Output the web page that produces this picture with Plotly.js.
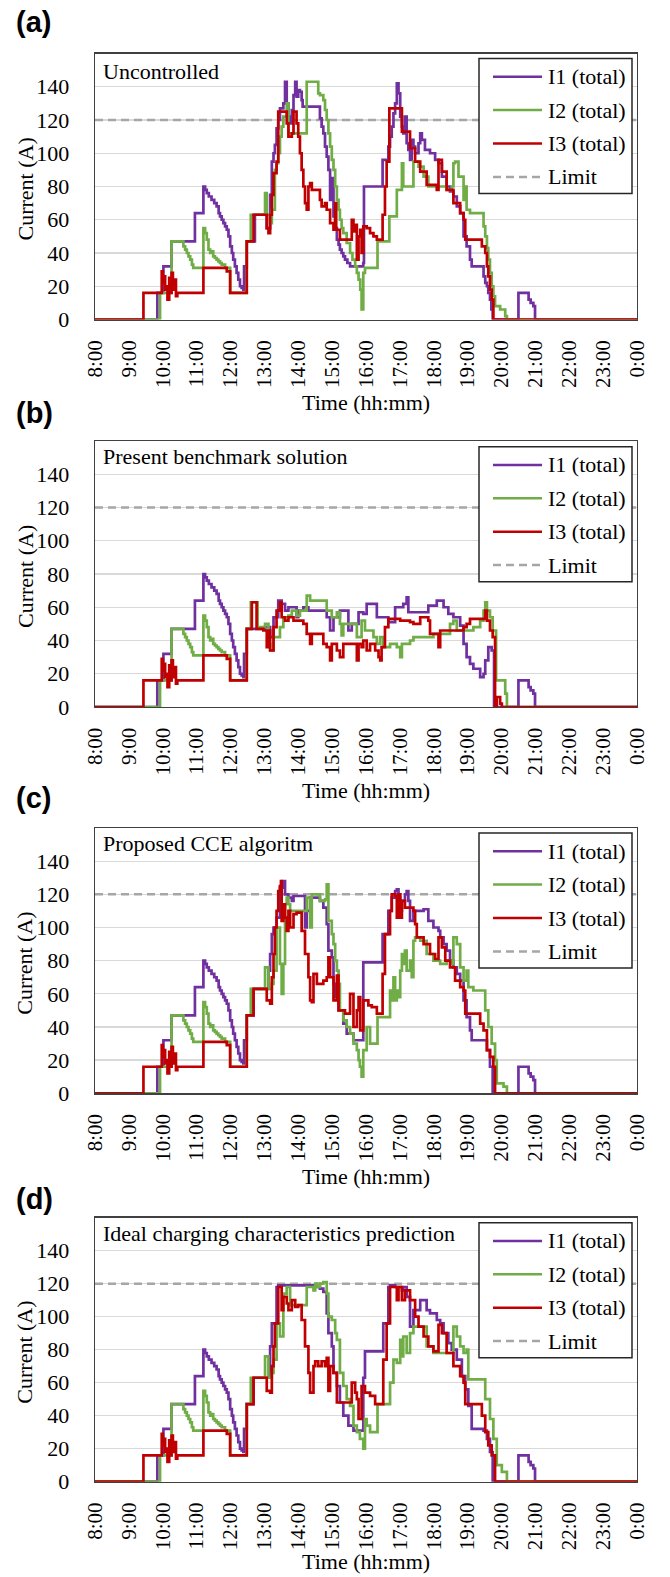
<!DOCTYPE html>
<html>
<head>
<meta charset="utf-8">
<script src="https://cdn.plot.ly/plotly-3.0.1.min.js"></script>
<style>html,body{margin:0;padding:0;background:#fff;}#chart{width:670px;height:1577px;}</style>
</head>
<body>
<div id="chart"></div>
<script>
// ---------- tick labels / categories ----------
const hours = [8,9,10,11,12,13,14,15,16,17,18,19,20,21,22,23,24];
const hourLabels = ['8:00','9:00','10:00','11:00','12:00','13:00','14:00','15:00','16:00','17:00','18:00','19:00','20:00','21:00','22:00','23:00','0:00'];
const yTicks = [0,20,40,60,80,100,120,140];
const seriesNames = ['I1 (total)','I2 (total)','I3 (total)','Limit'];
const panelLetters = ['(a)','(b)','(c)','(d)'];
const panelTitles = ['Uncontrolled','Present benchmark solution','Proposed CCE algoritm','Ideal charging characteristics prediction'];
const limitValue = 120;

// ---------- series values: [time in hours, current A] ----------
// common part 8:00 - 12:29 (identical in all four panels)
const early_I1 = [[8,0],[9.84,16],[10.02,32],[10.26,47],[10.95,64],[11.20,80],[11.25,78],[11.30,76],[11.36,74],[11.44,72],[11.52,70],[11.59,68],[11.65,64],[11.69,62],[11.74,60],[11.79,58],[11.84,56],[11.89,54],[11.94,50],[11.99,44],[12.04,40],[12.08,36],[12.13,32],[12.18,28],[12.23,24],[12.28,20],[12.33,19],[12.38,18],[12.40,32]];
const early_I2 = [[8,0],[9.92,16],[10.26,47],[10.56,47],[10.61,44],[10.66,42],[10.71,40],[10.76,38],[10.81,36],[10.86,33],[10.90,31],[11.20,55],[11.25,52],[11.30,48],[11.35,42],[11.40,40],[11.45,41],[11.49,38],[11.54,37],[11.59,36],[11.64,35],[11.69,34],[11.74,33],[11.84,31],[11.99,16]];
const early_I3 = [[8,0],[9.43,16],[9.97,29],[10.00,22],[10.04,26],[10.07,18],[10.10,20],[10.14,12],[10.19,25],[10.22,16],[10.26,28],[10.30,22],[10.33,18],[10.36,24],[10.39,14],[10.43,16],[11.20,31],[11.89,29],[11.99,16]];

// (a) Uncontrolled
const a_I1 = [[12.48,47],[12.72,63],[13.02,63],[13.07,55],[13.17,75],[13.22,95],[13.27,100],[13.31,105],[13.36,115],[13.41,120],[13.46,127],[13.56,130],[13.61,143],[13.66,130],[13.71,122],[13.76,118],[13.81,126],[13.86,135],[13.91,143],[13.95,134],[14.00,138],[14.05,137],[14.10,132],[14.13,128],[14.59,128],[14.64,121],[14.69,116],[14.74,112],[14.79,104],[14.84,98],[14.89,90],[14.94,72],[14.99,85],[15.04,62],[15.09,55],[15.14,48],[15.19,45],[15.23,42],[15.28,40],[15.33,38],[15.38,36],[15.45,34],[15.53,32],[15.87,32],[15.92,34],[15.94,80],[16.46,80],[16.49,96],[16.61,96],[16.66,104],[16.71,110],[16.76,116],[16.81,124],[16.86,130],[16.91,142],[16.96,136],[17.01,122],[17.06,116],[17.10,112],[17.15,122],[17.20,106],[17.25,102],[17.30,96],[17.35,108],[17.40,104],[17.45,100],[17.55,106],[17.60,112],[17.65,108],[17.74,102],[17.89,100],[18.04,96],[18.14,94],[18.24,86],[18.38,80],[18.48,77],[18.58,74],[18.68,68],[18.78,64],[18.88,50],[18.97,44],[19.07,36],[19.12,32],[19.42,32],[19.47,26],[19.52,22],[19.57,20],[19.61,16],[19.66,12],[19.70,6],[19.74,0],[20.50,16],[20.75,16],[20.80,12],[20.86,10],[20.94,8],[20.99,0],[24,0]];
const a_I2 = [[12.48,47],[12.60,63],[12.97,63],[13.02,76],[13.07,63],[13.17,58],[13.22,66],[13.31,90],[13.36,94],[13.41,100],[13.46,110],[13.51,116],[13.56,122],[13.66,130],[13.71,112],[14.20,112],[14.25,143],[14.55,143],[14.59,136],[14.64,135],[14.74,132],[14.79,126],[14.84,120],[14.89,112],[14.94,104],[14.99,96],[15.04,90],[15.09,80],[15.14,72],[15.19,66],[15.23,60],[15.28,55],[15.33,52],[15.43,46],[15.53,40],[15.60,36],[15.68,32],[15.73,28],[15.78,24],[15.83,18],[15.87,6],[15.92,28],[15.97,31],[16.32,31],[16.34,47],[16.66,47],[16.69,62],[16.91,78],[17.01,78],[17.06,94],[17.10,80],[17.30,80],[17.40,95],[17.55,92],[17.70,86],[17.84,80],[18.04,80],[18.38,78],[18.53,80],[18.58,94],[18.63,95],[18.73,86],[18.88,72],[18.95,80],[18.97,66],[19.07,64],[19.42,64],[19.47,56],[19.52,50],[19.57,43],[19.61,36],[19.66,28],[19.71,20],[19.76,14],[19.81,8],[19.96,6],[20.11,2],[20.16,0],[24,0]];
const a_I3 = [[12.48,47],[12.68,63],[13.02,63],[13.07,55],[13.12,52],[13.17,63],[13.22,75],[13.27,88],[13.36,95],[13.41,125],[13.61,125],[13.66,118],[13.71,110],[13.81,112],[13.86,125],[13.95,118],[14.00,110],[14.05,100],[14.10,90],[14.15,80],[14.20,70],[14.25,66],[14.30,80],[14.35,82],[14.40,78],[14.59,78],[14.64,72],[14.69,68],[14.79,70],[14.84,66],[14.94,58],[15.04,54],[15.09,70],[15.12,54],[15.23,48],[15.53,48],[15.58,60],[15.63,53],[15.68,57],[15.73,36],[15.78,50],[15.83,54],[15.87,40],[15.92,56],[16.02,55],[16.12,52],[16.22,50],[16.32,48],[16.46,48],[16.49,63],[16.56,80],[16.61,95],[16.69,127],[17.01,127],[17.06,113],[17.20,113],[17.30,103],[17.45,95],[17.60,89],[17.79,81],[18.09,78],[18.14,96],[18.24,89],[18.38,78],[18.58,70],[18.78,64],[18.88,60],[18.93,48],[19.37,48],[19.42,44],[19.52,40],[19.57,32],[19.61,26],[19.66,18],[19.71,12],[19.76,0],[24,0]];

// (b) Present benchmark solution
const b_I1 = [[12.48,47],[12.72,47],[13.02,48],[13.17,42],[13.27,54],[13.41,64],[13.51,62],[13.61,58],[13.71,60],[13.86,60],[13.95,54],[14.00,58],[14.15,60],[14.30,58],[14.64,58],[14.84,54],[14.94,46],[15.04,54],[15.23,58],[15.40,58],[15.48,46],[15.58,50],[15.78,57],[15.92,56],[16.02,62],[16.22,62],[16.32,54],[16.61,54],[16.66,51],[16.86,60],[17.10,62],[17.20,66],[17.25,57],[17.79,57],[17.84,61],[18.09,64],[18.29,60],[18.43,56],[18.58,54],[18.78,49],[18.88,38],[18.97,30],[19.07,26],[19.17,23],[19.37,18],[19.47,20],[19.52,28],[19.61,36],[19.71,34],[19.78,0],[20.50,16],[20.75,16],[20.80,12],[20.86,10],[20.94,8],[20.99,0],[24,0]];
const b_I2 = [[12.48,47],[12.60,63],[12.77,63],[12.80,48],[13.02,50],[13.12,38],[13.17,34],[13.27,42],[13.46,48],[13.56,54],[13.71,55],[13.81,58],[13.95,55],[14.05,58],[14.25,67],[14.35,64],[14.74,64],[14.84,58],[14.99,54],[15.14,57],[15.23,50],[15.28,43],[15.33,50],[15.53,50],[15.73,42],[15.87,52],[15.97,46],[16.22,42],[16.32,38],[16.42,42],[16.51,36],[16.71,38],[16.91,36],[17.01,30],[17.06,38],[17.30,40],[17.40,42],[17.79,42],[17.99,44],[18.19,44],[18.48,50],[18.58,52],[18.68,46],[18.97,46],[19.17,48],[19.37,52],[19.47,58],[19.52,63],[19.57,58],[19.66,54],[19.74,46],[19.84,16],[20.01,16],[20.11,8],[20.16,0],[24,0]];
const b_I3 = [[12.48,47],[12.63,63],[12.77,47],[12.97,46],[13.07,36],[13.12,46],[13.17,34],[13.27,48],[13.36,58],[13.46,63],[13.51,54],[13.61,52],[13.71,54],[13.86,52],[14.05,52],[14.15,50],[14.25,44],[14.35,38],[14.40,44],[14.64,44],[14.74,38],[14.84,36],[14.94,28],[14.99,38],[15.14,34],[15.23,30],[15.33,38],[15.58,38],[15.73,28],[15.78,38],[15.87,36],[15.92,40],[16.02,34],[16.12,38],[16.27,34],[16.37,30],[16.42,28],[16.46,36],[16.56,48],[16.66,53],[16.91,53],[17.01,52],[17.30,51],[17.40,50],[17.60,54],[17.84,52],[17.89,44],[18.09,44],[18.14,36],[18.19,46],[18.88,48],[18.97,50],[19.07,53],[19.47,53],[19.52,58],[19.57,52],[19.66,46],[19.74,42],[19.81,0],[19.86,6],[19.96,2],[20.01,0],[24,0]];

// (c) Proposed CCE algoritm
const c_I1 = [[12.48,47],[12.68,63],[13.02,63],[13.12,74],[13.17,84],[13.22,96],[13.27,100],[13.36,106],[13.46,124],[13.54,128],[13.61,120],[13.71,118],[13.81,116],[13.86,119],[14.15,119],[14.20,100],[14.25,110],[14.35,118],[14.64,116],[14.74,112],[14.84,102],[14.89,86],[14.99,82],[15.04,66],[15.09,58],[15.19,50],[15.33,42],[15.43,36],[15.63,32],[15.87,32],[15.92,79],[16.46,79],[16.49,96],[16.61,96],[16.66,110],[16.76,118],[16.86,122],[16.91,123],[16.96,118],[17.01,110],[17.06,116],[17.15,120],[17.20,122],[17.25,116],[17.30,104],[17.40,110],[17.70,111],[17.84,104],[17.99,100],[18.14,98],[18.19,94],[18.29,90],[18.38,86],[18.48,80],[18.58,76],[18.68,72],[18.78,68],[18.88,56],[18.97,46],[19.07,38],[19.12,32],[19.47,32],[19.57,26],[19.66,16],[19.74,0],[20.50,16],[20.75,16],[20.80,12],[20.86,10],[20.94,8],[20.99,0],[24,0]];
const c_I2 = [[12.48,47],[12.60,63],[13.02,76],[13.12,63],[13.22,66],[13.27,74],[13.36,100],[13.46,78],[13.51,60],[13.56,78],[13.61,114],[13.66,118],[13.71,114],[13.76,110],[14.20,110],[14.25,118],[14.35,100],[14.40,120],[14.59,120],[14.64,116],[14.79,117],[14.84,126],[14.89,104],[14.99,96],[15.04,90],[15.09,80],[15.14,74],[15.19,66],[15.23,50],[15.33,44],[15.43,40],[15.53,36],[15.63,30],[15.73,26],[15.78,20],[15.82,16],[15.87,10],[15.92,26],[16.02,40],[16.12,30],[16.32,30],[16.34,46],[16.66,46],[16.71,62],[16.76,56],[16.81,70],[16.86,56],[16.91,62],[16.96,58],[17.01,74],[17.06,84],[17.10,78],[17.15,86],[17.20,74],[17.30,80],[17.35,70],[17.40,92],[17.45,94],[17.60,92],[17.79,84],[17.99,80],[18.19,78],[18.38,80],[18.53,78],[18.58,94],[18.68,90],[18.78,76],[18.88,68],[18.97,74],[19.02,64],[19.17,62],[19.42,62],[19.52,50],[19.61,40],[19.71,30],[19.81,20],[19.86,6],[20.06,4],[20.16,0],[24,0]];
const c_I3 = [[12.48,47],[12.68,63],[13.02,63],[13.07,56],[13.17,54],[13.22,70],[13.27,84],[13.31,100],[13.36,110],[13.41,122],[13.46,125],[13.49,128],[13.51,104],[13.56,114],[13.61,106],[13.66,98],[13.71,110],[13.76,100],[13.86,108],[13.95,109],[14.10,98],[14.20,84],[14.30,70],[14.35,56],[14.40,55],[14.45,72],[14.55,66],[14.74,68],[14.84,70],[14.89,82],[14.94,70],[15.04,56],[15.14,71],[15.19,50],[15.38,48],[15.53,60],[15.63,40],[15.73,50],[15.78,58],[15.83,38],[15.92,56],[16.07,53],[16.17,52],[16.32,48],[16.49,72],[16.56,96],[16.66,96],[16.71,110],[16.76,120],[16.86,119],[16.91,106],[16.96,120],[17.01,106],[17.06,116],[17.15,112],[17.40,110],[17.45,102],[17.50,94],[17.70,90],[17.89,84],[18.04,81],[18.14,94],[18.24,88],[18.34,80],[18.48,76],[18.63,68],[18.78,64],[18.88,62],[18.93,48],[19.27,48],[19.37,42],[19.47,38],[19.57,26],[19.66,22],[19.76,16],[19.81,0],[24,0]];

// (d) Ideal charging characteristics prediction
const d_I1 = [[12.48,47],[12.68,63],[13.02,63],[13.17,82],[13.22,96],[13.31,96],[13.36,118],[13.41,119],[14.50,118],[14.64,117],[14.74,115],[14.84,102],[14.89,90],[14.99,82],[15.04,66],[15.14,58],[15.23,48],[15.33,40],[15.48,34],[15.63,31],[15.87,31],[15.92,63],[15.97,79],[16.46,79],[16.51,96],[16.61,96],[16.66,118],[16.71,119],[16.86,118],[17.06,116],[17.10,118],[17.20,112],[17.30,94],[17.40,104],[17.60,110],[17.74,110],[17.79,104],[17.89,102],[18.09,98],[18.19,96],[18.29,90],[18.43,84],[18.53,80],[18.68,74],[18.83,64],[18.93,56],[19.02,46],[19.12,32],[19.47,31],[19.57,26],[19.66,18],[19.74,0],[20.50,16],[20.75,16],[20.80,12],[20.86,10],[20.94,8],[20.99,0],[24,0]];
const d_I2 = [[12.48,47],[12.60,63],[13.02,76],[13.12,63],[13.22,66],[13.27,74],[13.36,96],[13.46,88],[13.56,114],[13.66,118],[13.76,107],[14.10,107],[14.25,118],[14.40,118],[14.45,116],[14.50,120],[14.55,118],[14.64,120],[14.74,121],[14.84,114],[14.89,100],[14.99,98],[15.09,90],[15.14,86],[15.23,66],[15.33,58],[15.43,50],[15.53,46],[15.63,34],[15.73,30],[15.82,26],[15.92,20],[15.97,38],[16.02,34],[16.12,30],[16.32,30],[16.34,47],[16.66,47],[16.71,60],[16.81,74],[16.91,72],[17.01,86],[17.06,76],[17.10,88],[17.20,78],[17.30,90],[17.40,94],[17.60,94],[17.79,82],[17.99,78],[18.38,78],[18.58,94],[18.68,88],[18.78,82],[18.88,78],[18.97,80],[19.02,62],[19.42,62],[19.52,50],[19.66,38],[19.76,26],[19.86,10],[20.01,6],[20.16,0],[24,0]];
const d_I3 = [[12.48,47],[12.68,63],[13.02,63],[13.07,55],[13.17,54],[13.22,70],[13.27,82],[13.31,96],[13.41,118],[13.51,104],[13.56,112],[13.66,108],[13.71,104],[13.81,110],[13.91,106],[14.00,107],[14.10,98],[14.20,82],[14.30,66],[14.35,54],[14.45,70],[14.50,73],[14.59,70],[14.69,73],[14.79,70],[14.84,75],[14.89,55],[14.94,70],[15.04,66],[15.14,48],[15.53,48],[15.58,60],[15.68,54],[15.73,50],[15.78,38],[15.87,58],[15.97,54],[16.12,52],[16.27,47],[16.46,47],[16.51,74],[16.61,96],[16.71,118],[16.81,118],[16.91,110],[16.96,118],[17.06,110],[17.15,116],[17.30,110],[17.45,100],[17.55,94],[17.70,88],[17.84,82],[17.99,79],[18.14,95],[18.24,90],[18.38,78],[18.58,70],[18.78,64],[18.88,60],[18.93,47],[19.32,47],[19.42,40],[19.52,30],[19.61,22],[19.71,16],[19.81,0],[24,0]];

const panelSeries = [
  [a_I1, a_I2, a_I3],
  [b_I1, b_I2, b_I3],
  [c_I1, c_I2, c_I3],
  [d_I1, d_I2, d_I3]
];
const earlySeries = [early_I1, early_I2, early_I3];

// ---------- styling / layout (pixels of the 670x1577 page) ----------
const W = 670, H = 1577;
const colors = ['#7030a0','#70ad47','#c00000'];
const limitColor = '#a6a6a6';
const plotLeft = 95, plotRight = 637;
const plotTop = [53.5, 441, 828, 1217.7];
const plotBottom = [319.5, 707, 1093.3, 1481.7];
const legendTop = [58.5, 446.7, 833, 1222.7];
const legendLeft = 479, legendRight = 632, legendHeight = 135;
const legendLineX = [493, 542], legendTextX = 546;
const subTitleY = [71, 456.7, 843, 1233];
const letterY = [22, 413, 798, 1199];
const xTitleY = [402, 790, 1176, 1561];
const serif = 'Liberation Serif, Times New Roman, serif';
const sans = 'Liberation Sans, Arial, sans-serif';
const px = v => v / W;
const py = v => 1 - v / H;

const traces = [];
const layout = {
  width: W, height: H,
  margin: {l:0, r:0, t:0, b:0},
  paper_bgcolor: '#fff', plot_bgcolor: '#fff',
  font: {family: serif, size: 22, color: '#000'},
  showlegend: false,
  annotations: [],
  shapes: []
};

for (let p = 0; p < 4; p++) {
  const sfx = p === 0 ? '' : String(p + 1);
  const xa = 'x' + sfx, ya = 'y' + sfx;
  // limit line
  traces.push({
    x: [hours[0], hours[hours.length-1]], y: [limitValue, limitValue],
    xaxis: xa, yaxis: ya, mode: 'lines', name: seriesNames[3],
    line: {color: limitColor, width: 2.5, dash: '8px,5px'}, hoverinfo: 'skip'
  });
  for (let s = 0; s < 3; s++) {
    const pts = earlySeries[s].concat(panelSeries[p][s]);
    traces.push({
      x: pts.map(d => d[0]), y: pts.map(d => d[1]),
      xaxis: xa, yaxis: ya, mode: 'lines', name: seriesNames[s],
      line: {color: colors[s], width: 2.7, shape: 'hv'}
    });
  }
  layout['xaxis' + sfx] = {
    domain: [px(plotLeft), px(plotRight)], anchor: ya, range: [8, 24],
    tickmode: 'array', tickvals: hours, ticktext: hourLabels, tickangle: -90,
    tickfont: {family: serif, size: 21, color: '#000'},
    ticks: 'outside', ticklen: 11, tickcolor: 'rgba(0,0,0,0)',
    showgrid: false, zeroline: false, showline: true, mirror: true,
    linecolor: '#404040', linewidth: 1.3, fixedrange: true
  };
  layout['yaxis' + sfx] = {
    domain: [py(plotBottom[p]), py(plotTop[p])], anchor: xa, range: [0, 160],
    tickmode: 'array', tickvals: yTicks,
    tickfont: {family: serif, size: 22, color: '#000'},
    ticks: 'outside', ticklen: 20, tickcolor: 'rgba(0,0,0,0)',
    showgrid: true, gridcolor: '#d9d9d9', gridwidth: 1.3, zeroline: false,
    showline: true, mirror: true, linecolor: '#404040', linewidth: 1.3, fixedrange: true
  };
  // legend box (drawn above the plot, hides the limit line behind it)
  layout.shapes.push({
    type: 'rect', xref: 'paper', yref: 'paper', layer: 'above',
    x0: px(legendLeft), x1: px(legendRight), y0: py(legendTop[p] + legendHeight), y1: py(legendTop[p]),
    fillcolor: '#fff', line: {color: '#262626', width: 1.5}
  });
  const legendColors = colors.concat([limitColor]);
  for (let k = 0; k < 4; k++) {
    const yy = legendTop[p] + 18.2 + 33.4 * k;
    layout.shapes.push({
      type: 'line', xref: 'paper', yref: 'paper', layer: 'above',
      x0: px(legendLineX[0]), x1: px(legendLineX[1]), y0: py(yy), y1: py(yy),
      line: {color: legendColors[k], width: 2.5, dash: k === 3 ? '8px,5px' : 'solid'}
    });
    layout.annotations.push({
      text: seriesNames[k], xref: 'paper', yref: 'paper', x: px(legendTextX), y: py(yy),
      xanchor: 'left', yanchor: 'middle', showarrow: false, font: {family: serif, size: 22, color: '#000'}
    });
  }
  layout.annotations.push(
    {text: '<b>' + panelLetters[p] + '</b>', xref: 'paper', yref: 'paper', x: px(14), y: py(letterY[p]),
     xanchor: 'left', yanchor: 'middle', showarrow: false, font: {family: sans, size: 29, color: '#000'}},
    {text: panelTitles[p], xref: 'paper', yref: 'paper', x: px(101), y: py(subTitleY[p]),
     xanchor: 'left', yanchor: 'middle', showarrow: false, font: {family: serif, size: 22, color: '#000'}},
    {text: 'Current (A)', xref: 'paper', yref: 'paper', x: px(25), y: py((plotTop[p] + plotBottom[p]) / 2 + 2),
     xanchor: 'center', yanchor: 'middle', textangle: -90, showarrow: false, font: {family: serif, size: 22, color: '#000'}},
    {text: 'Time (hh:mm)', xref: 'paper', yref: 'paper', x: px((plotLeft + plotRight) / 2), y: py(xTitleY[p]),
     xanchor: 'center', yanchor: 'middle', showarrow: false, font: {family: serif, size: 22, color: '#000'}}
  );
}

Plotly.newPlot('chart', traces, layout, {displayModeBar: false, staticPlot: true});
</script>
</body>
</html>
